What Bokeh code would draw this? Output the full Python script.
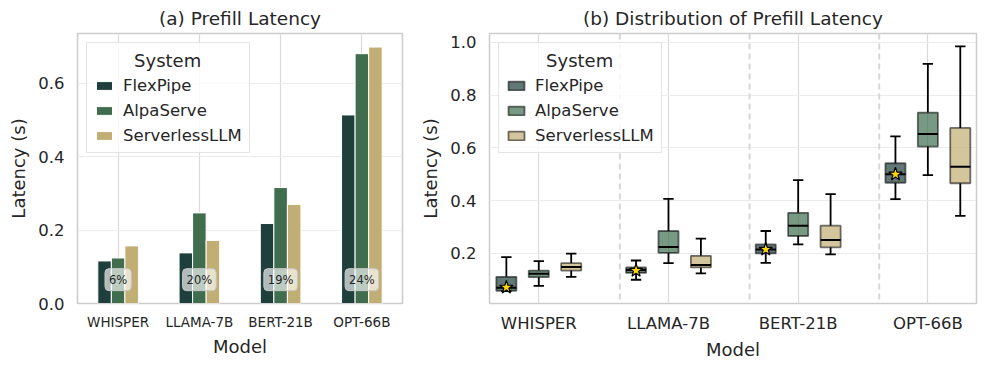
from bokeh.plotting import figure
from bokeh.layouts import row
from bokeh.models import (FixedTicker, PrintfTickFormatter, Legend, LegendItem,
                          Span, Label, Range1d)
from bokeh.embed import file_html
from bokeh.resources import INLINE

# ---------------- data ----------------
models = ["WHISPER", "LLAMA-7B", "BERT-21B", "OPT-66B"]
systems = ["FlexPipe", "AlpaServe", "ServerlessLLM"]
colors = ["#1e3f3c", "#3f6d4e", "#c0ae74"]

# (a) mean prefill latency (s)
bar_flexpipe = [0.116, 0.138, 0.218, 0.514]
bar_alpaserve = [0.124, 0.247, 0.316, 0.681]
bar_serverless = [0.157, 0.172, 0.270, 0.699]
reduction_labels = ["6%", "20%", "19%", "24%"]
reduction_label_y = 0.065

# (b) distribution: low whisker, q1, median, q3, high whisker
flex_low = [0.057, 0.100, 0.164, 0.406]
flex_q1 = [0.058, 0.126, 0.200, 0.468]
flex_med = [0.070, 0.137, 0.215, 0.500]
flex_q3 = [0.111, 0.147, 0.234, 0.542]
flex_high = [0.186, 0.173, 0.285, 0.644]
flex_mean = [0.071, 0.135, 0.215, 0.500]

alpa_low = [0.077, 0.163, 0.234, 0.497]
alpa_q1 = [0.110, 0.202, 0.266, 0.605]
alpa_med = [0.123, 0.224, 0.305, 0.653]
alpa_q3 = [0.135, 0.285, 0.354, 0.734]
alpa_high = [0.171, 0.407, 0.478, 0.919]

serv_low = [0.111, 0.124, 0.196, 0.342]
serv_q1 = [0.135, 0.147, 0.223, 0.466]
serv_med = [0.148, 0.156, 0.251, 0.529]
serv_q3 = [0.163, 0.191, 0.305, 0.676]
serv_high = [0.199, 0.256, 0.425, 0.985]

left_yticks = [0.0, 0.2, 0.4, 0.6]
right_yticks = [0.2, 0.4, 0.6, 0.8, 1.0]

FONT = "DejaVu Sans"
TXT = "#262626"


def style(p, xfont, yticks):
    p.outline_line_color = "#cccccc"
    p.outline_line_width = 1.5
    p.title.text_font = FONT
    p.title.text_font_size = "18.5px"
    p.title.text_font_style = "normal"
    p.title.text_color = TXT
    p.title.align = "center"
    p.title.standoff = 9
    for ax in (p.xaxis[0], p.yaxis[0]):
        ax.axis_line_color = None
        ax.major_tick_line_color = None
        ax.minor_tick_line_color = None
        ax.major_tick_out = 0
        ax.major_tick_in = 0
        ax.axis_label_text_font = FONT
        ax.axis_label_text_font_size = "18px"
        ax.axis_label_text_font_style = "normal"
        ax.axis_label_text_color = TXT
        ax.major_label_text_font = FONT
        ax.major_label_text_color = TXT
    p.xaxis.ticker = FixedTicker(ticks=list(range(len(models))))
    p.xaxis.major_label_overrides = {i: m for i, m in enumerate(models)}
    p.xaxis.major_label_text_font_size = xfont
    p.xaxis.major_label_standoff = 10
    p.xaxis.axis_label = "Model"
    p.xaxis.axis_label_standoff = 3
    p.yaxis.ticker = FixedTicker(ticks=yticks)
    p.yaxis.formatter = PrintfTickFormatter(format="%.1f")
    p.yaxis.major_label_text_font_size = "16.5px"
    p.yaxis.major_label_standoff = 13
    p.yaxis.axis_label = "Latency (s)"
    p.yaxis.axis_label_standoff = 6
    p.xgrid.grid_line_color = "#dadada"
    p.xgrid.grid_line_width = 1.2
    p.ygrid.grid_line_color = "#ebebeb"
    p.ygrid.grid_line_width = 1.2
    p.background_fill_color = "white"
    p.border_fill_color = "white"


def make_legend(items):
    lg = Legend(items=items, location="top_left", title="\u00a0" * 7 + "System")
    lg.margin = 9
    lg.padding = 7
    lg.spacing = 5
    lg.label_height = 20
    lg.glyph_height = 11
    lg.glyph_width = 20
    lg.label_standoff = 9
    lg.title_standoff = 4
    lg.label_text_font = FONT
    lg.label_text_font_size = "16.5px"
    lg.label_text_color = TXT
    lg.title_text_font = FONT
    lg.title_text_font_size = "18px"
    lg.title_text_font_style = "normal"
    lg.title_text_color = TXT
    lg.border_line_color = "#cccccc"
    lg.border_line_width = 1
    lg.background_fill_color = "white"
    lg.background_fill_alpha = 0.8
    return lg


# ---------------- (a) bars ----------------
p1 = figure(width=412, height=368, x_range=Range1d(-0.5, 3.5), y_range=Range1d(0, 0.736),
            output_backend="svg", toolbar_location=None, title="(a) Prefill Latency",
            min_border_left=77, min_border_right=10, min_border_top=33, min_border_bottom=65)
style(p1, "13.5px", left_yticks)

bar_w = 0.1667
bar_series = [bar_flexpipe, bar_alpaserve, bar_serverless]
items1 = []
for j, (name, vals) in enumerate(zip(systems, bar_series)):
    xs = [i + (j - 1) * bar_w for i in range(len(models))]
    r = p1.vbar(x=xs, top=vals, width=bar_w, fill_color=colors[j], line_color="white", line_width=1)
    items1.append(LegendItem(label=name, renderers=[r]))

for i, txt in enumerate(reduction_labels):
    p1.add_layout(Label(x=i, y=reduction_label_y, text=txt, text_align="center",
                        text_baseline="middle", text_font=FONT, text_font_size="11.5px",
                        text_color=TXT, background_fill_color="white", background_fill_alpha=0.65,
                        border_line_color="#c8c8c8", border_line_width=1,
                        padding=4, border_radius=4))

p1.add_layout(make_legend(items1), "center")

# ---------------- (b) boxes ----------------
p2 = figure(width=575, height=368, x_range=Range1d(-0.38, 3.375), y_range=Range1d(0.01, 1.034),
            output_backend="svg", toolbar_location=None, title="(b) Distribution of Prefill Latency",
            min_border_left=77, min_border_right=11, min_border_top=33, min_border_bottom=65)
style(p2, "16.5px", right_yticks)
p2.xaxis.major_label_standoff = 10
p2.xaxis.axis_label_standoff = 3

for i in range(len(models) - 1):
    p2.add_layout(Span(location=i + 0.625, dimension="height", line_color="#d6d6d6",
                       line_width=2, line_dash="6 4"))

box_w = 0.155
cap_w = 0.08
stats = [
    (flex_low, flex_q1, flex_med, flex_q3, flex_high),
    (alpa_low, alpa_q1, alpa_med, alpa_q3, alpa_high),
    (serv_low, serv_q1, serv_med, serv_q3, serv_high),
]
items2 = []
for j, (lo, q1, med, q3, hi) in enumerate(stats):
    xs = [i + (j - 1) * 0.25 for i in range(len(models))]
    p2.segment(x0=xs, y0=q3, x1=xs, y1=hi, line_color="black", line_width=1.8)
    p2.segment(x0=xs, y0=lo, x1=xs, y1=q1, line_color="black", line_width=1.8)
    p2.segment(x0=[x - cap_w / 2 for x in xs], y0=hi, x1=[x + cap_w / 2 for x in xs], y1=hi,
               line_color="black", line_width=1.8)
    p2.segment(x0=[x - cap_w / 2 for x in xs], y0=lo, x1=[x + cap_w / 2 for x in xs], y1=lo,
               line_color="black", line_width=1.8)
    r = p2.vbar(x=xs, bottom=q1, top=q3, width=box_w, fill_color=colors[j], fill_alpha=0.7,
                line_color="black", line_alpha=0.55, line_width=1.8)
    p2.segment(x0=[x - box_w / 2 for x in xs], y0=med, x1=[x + box_w / 2 for x in xs], y1=med,
               line_color="black", line_width=2)
    items2.append(LegendItem(label=systems[j], renderers=[r]))

flex_xs = [i - 0.25 for i in range(len(models))]
p2.scatter(x=flex_xs, y=flex_mean, marker="star", size=14, fill_color="#ffd700",
           line_color="black", line_width=1.2)

p2.add_layout(make_legend(items2), "center")

layout = row(p1, p2)
open("out.html", "w").write(file_html(layout, INLINE))
